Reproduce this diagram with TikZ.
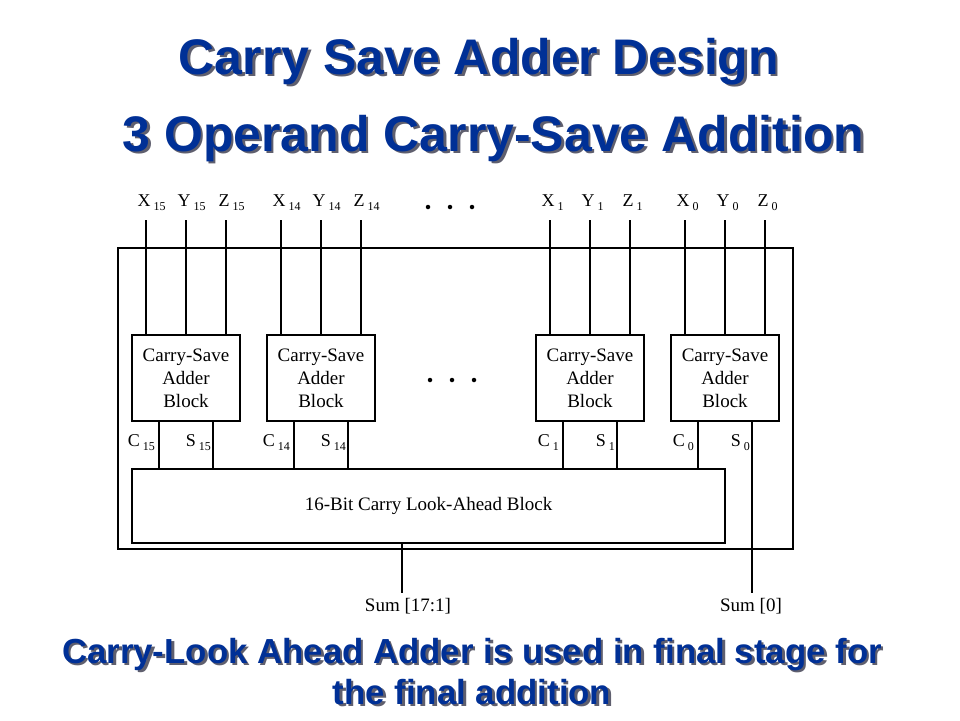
\documentclass[tikz,border=0pt]{standalone}
\usepackage{fontspec}
\setmainfont{Liberation Serif}
\newfontfamily\headfont{Liberation Sans}
\definecolor{titleblue}{RGB}{0,48,150}
\definecolor{shade}{RGB}{95,95,110}
\newcommand{\sbs}[1]{\raisebox{-4pt}{\fontsize{12}{12}\selectfont #1}}
\tikzset{
  wire/.style={line width=1.5pt},
  csa/.style={draw, line width=1.5pt, minimum width=108pt, minimum height=86pt, inner sep=0pt, align=center, font=\fontsize{19}{23}\selectfont},
  pin/.style={anchor=base, inner sep=0pt, font=\fontsize{18}{18}\selectfont},
  outlbl/.style={anchor=base east, inner sep=0pt, font=\fontsize{18}{18}\selectfont},
  sumlbl/.style={anchor=base, inner sep=0pt, font=\fontsize{19}{19}\selectfont},
  bigdot/.style={circle, fill, inner sep=0pt, minimum size=4.5pt},
  heading/.style={inner sep=0pt, anchor=base, text=titleblue, font=\headfont\bfseries\fontsize{50}{60}\selectfont},
  headshadow/.style={heading, text=shade},
  note/.style={inner sep=0pt, anchor=base, text=titleblue, font=\headfont\bfseries\fontsize{34.8}{40}\selectfont},
  noteshadow/.style={note, text=shade},
}
\begin{document}
\begin{tikzpicture}[x=1pt,y=-1pt]
\useasboundingbox (0,0) rectangle (960,720);
\fill[white] (0,0) rectangle (960,720);

% titles
\node[headshadow] at (481.5,76.5) {Carry Save Adder Design};
\node[heading] (t1) at (479,74) {Carry Save Adder Design};
\node[headshadow] at (496,153.5) {3 Operand Carry-Save Addition};
\node[heading] (t2) at (493.5,151) {3 Operand Carry-Save Addition};

% outer frame and CLA block
\node[draw, wire, minimum width=675pt, minimum height=301pt, inner sep=0pt] (outer) at (455.5,398.5) {};
\node[draw, wire, minimum width=593pt, minimum height=74pt, inner sep=0pt,
      font=\fontsize{19}{19}\selectfont] (cla) at (428.5,506) {16-Bit Carry Look-Ahead Block};

% dots
\node[bigdot] (d1) at (428,207) {};
\node[bigdot] (d2) at (450,207) {};
\node[bigdot] (d3) at (472,207) {};
\node[bigdot] (d4) at (430,380) {};
\node[bigdot] (d5) at (452,380) {};
\node[bigdot] (d6) at (474,380) {};

% sum outputs
\coordinate (sumhi) at (402,593);
\coordinate (sumlo) at (752,593);
\draw[wire] (cla.south -| sumhi) -- (sumhi);
\node[sumlbl] (lsumhi) at (408,611) {Sum [17:1]};
\node[sumlbl] (lsumlo) at (751,611) {Sum [0]};

% carry-save blocks
\foreach \n/\cx in {15/186, 14/321, 1/590, 0/725} {
  \node[csa] (b\n) at (\cx,378) {Carry-Save\\Adder\\Block};
  \foreach \L/\dx in {X/-40, Y/0, Z/40} {
    \node[pin] (l\L\n) at (\cx+\dx-2,206) {\L\rlap{\,\sbs{\n}}};
    \coordinate (i\L\n) at (\cx+\dx,220);
    \draw[wire] (i\L\n) -- (i\L\n |- b\n.north);
  }
  \coordinate (c\n) at (\cx-27,421);
  \coordinate (s\n) at (\cx+27,421);
  \draw[wire] (c\n) -- (c\n |- cla.north);
  \node[outlbl] (lc\n) at (\cx-31,446) {C\,\sbs{\n}};
  \node[outlbl] (ls\n) at (\cx+25,446) {S\,\sbs{\n}};
}
\foreach \n in {15,14,1} {
  \draw[wire] (s\n) -- (s\n |- cla.north);
}
\draw[wire] (s0) -- (sumlo);

% bottom note
\node[noteshadow] at (474.5,665.5) {Carry-Look Ahead Adder is used in final stage for};
\node[note] (n1) at (472,663) {Carry-Look Ahead Adder is used in final stage for};
\node[noteshadow] at (474.5,706.5) {the final addition};
\node[note] (n2) at (472,704) {the final addition};
\end{tikzpicture}
\end{document}
